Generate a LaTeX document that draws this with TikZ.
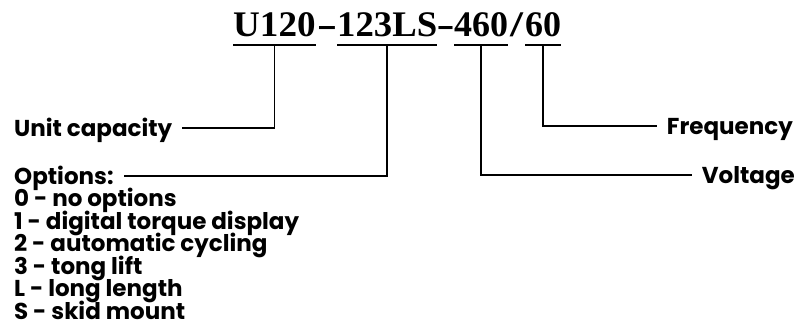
\documentclass[tikz,border=0pt]{standalone}
\usepackage{fontspec}
\setmainfont{Liberation Serif}
\newfontfamily\lbl{Poppins}
\begin{document}
\begin{tikzpicture}[x=1pt,y=-1pt,
  ttl/.style={inner sep=0pt, anchor=base west, font=\fontsize{36}{36}\selectfont\bfseries},
  sep/.style={inner sep=0pt, anchor=base, font=\fontsize{36}{36}\selectfont\bfseries},
  lab/.style={inner xsep=10pt, inner ysep=0pt, font=\lbl\fontsize{23}{23}\selectfont\bfseries},
  item/.style={inner sep=0pt, anchor=base west, font=\lbl\fontsize{23}{23}\selectfont\bfseries},
  conn/.style={line width=1.5pt},
  uline/.style={line width=2.2pt}]
\useasboundingbox (0,0) rectangle (801,329);
% title pieces
\node[ttl] (t1) at (233,37) {\scalebox{1.03}[1]{U120}};
\node[sep] (h1) at (327,37) {\scalebox{1.7}[1]{-}};
\node[ttl] (t2) at (337,37) {\scalebox{1.02}[1]{123LS}};
\node[sep] (h2) at (445.5,37) {\scalebox{1.5}[1]{-}};
\node[ttl] (t3) at (454,37) {460};
\node[sep] (sl) at (516.5,37) {\scalebox{1.3}[1]{/}};
\node[ttl] (t4) at (525,37) {60};
\foreach \t in {t1,t2,t3,t4}
  \draw[uline] ([yshift=-8pt]\t.base west) -- ([yshift=-8pt]\t.base east);
% labels
\node[lab, anchor=base west] (unit) at (4,136) {Unit capacity};
\node[lab, anchor=base west] (opt) at (4,184) {Options:};
\node[item] (o0) at (14,206.5) {0 - no options};
\node[item] (o1) at (14,229) {1 - digital torque display};
\node[item] (o2) at (14,251.5) {2 - automatic cycling};
\node[item] (o3) at (14,274) {3 - tong lift};
\node[item] (o4) at (14,296.5) {L - long length};
\node[item] (o5) at (14,319) {S - skid mount};
\node[lab, anchor=base east] (freq) at (803,134) {Frequency};
\node[lab, anchor=base east] (volt) at (805,183) {Voltage};
% connectors
\draw[conn] ([yshift=-9pt]t1.base) |- ([yshift=8pt]unit.base east);
\draw[conn] ([yshift=-9pt]t2.base) |- ([yshift=8pt]opt.base east);
\draw[conn] ([yshift=-9pt]t3.base) |- ([yshift=8pt]volt.base west);
\draw[conn] ([yshift=-9pt]t4.base) |- ([yshift=8pt]freq.base west);
\end{tikzpicture}
\end{document}
